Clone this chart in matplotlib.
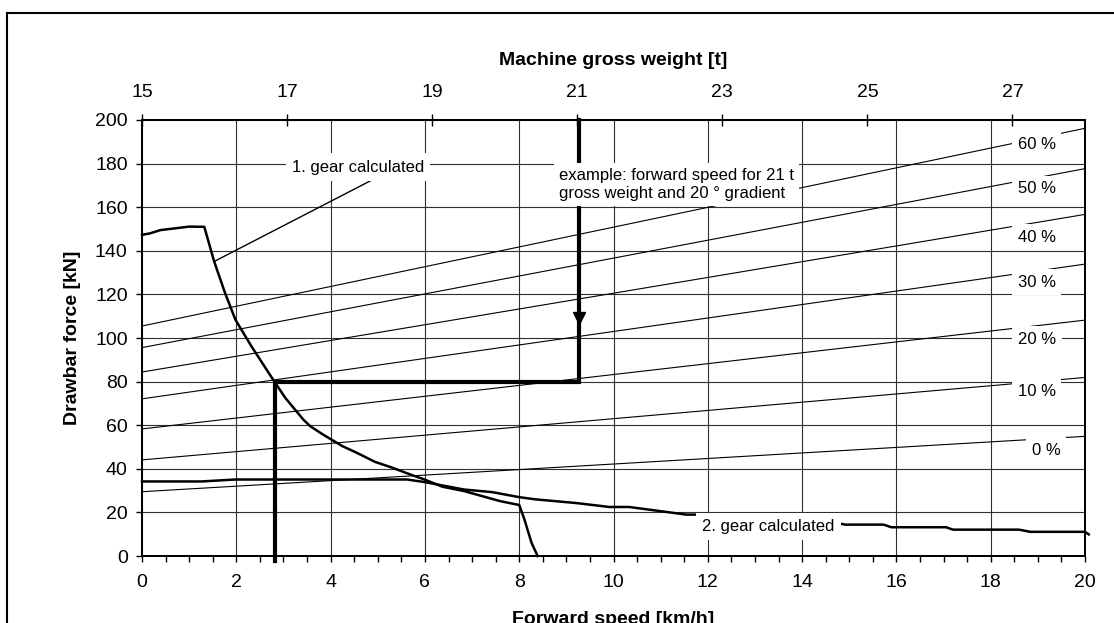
import numpy as np
import matplotlib
matplotlib.use("Agg")
import matplotlib.pyplot as plt
from matplotlib.lines import Line2D
from matplotlib.ticker import MultipleLocator

plt.rcParams['font.family'] = ['Liberation Sans', 'DejaVu Sans']
plt.rcParams['font.size'] = 12

# 1. gear, calculated drawbar force [kN] over forward speed [km/h]
gear1_speed = [0, 0.17, 0.39, 0.70, 1.0, 1.32, 1.53, 1.76, 1.98, 2.32, 2.78, 3.04, 3.42,
               3.57, 3.84, 4.25, 4.56, 4.94, 5.31, 5.69, 5.99, 6.37, 6.83, 7.21, 7.59,
               8.00, 8.11, 8.26, 8.39]
gear1_force = [147.3, 148.0, 149.5, 150.3, 151.1, 151.0, 135.1, 120.7, 108.4, 96.2, 80.9,
               72.5, 62.6, 59.5, 55.7, 50.4, 47.3, 43.2, 40.5, 37.4, 35.1, 31.8, 29.8,
               27.5, 25.2, 23.4, 16.8, 6.1, 0]

# 2. gear, calculated
gear2_speed = [0, 1.26, 1.98, 5.62, 6.0, 6.83, 7.43, 8.0, 8.34, 9.21, 9.91, 10.33, 10.92,
               11.54, 11.77, 14.80, 14.91, 15.73, 15.89, 17.05, 17.20, 18.60, 18.84,
               20.0, 20.08]
gear2_force = [34.2, 34.2, 35.1, 35.1, 33.9, 30.5, 29.3, 27.0, 26.0, 24.3, 22.5, 22.5, 20.8,
               19.0, 19.0, 14.9, 14.4, 14.4, 13.2, 13.2, 12.1, 12.1, 11.1, 11.1, 9.9]

# gradient lines: required force at 0 km/h (15 t) and 20 km/h (28 t)
grade_labels = ['0 %', '10 %', '20 %', '30 %', '40 %', '50 %', '60 %']
grade_force_start = [29.5, 44.1, 58.3, 72.1, 84.4, 95.6, 105.5]
grade_force_end = [54.9, 81.9, 108.2, 133.9, 156.7, 177.7, 196.2]
grade_label_x = [19.18, 18.98, 18.98, 18.98, 18.98, 18.98, 18.98]
grade_label_y = [48.6, 75.4, 99.4, 125.5, 146.2, 168.5, 188.6]

weight_ticks = [15, 17, 19, 21, 23, 25, 27]
speed_ticks = np.arange(0, 21, 2)
force_ticks = np.arange(0, 201, 20)

# example: 21 t and 20 % -> 80 kN -> about 2.8 km/h
example_speed = [9.27, 9.27, 2.82, 2.82]
example_force = [200, 80, 80, -2.5]

fig = plt.figure(figsize=(11.14, 6.23), dpi=100)
ax = fig.add_axes([0.1275, 0.1075, 0.8465, 0.6999])

ax.set_xlim(0, 20)
ax.set_ylim(0, 200)
ax.set_xticks(speed_ticks)
ax.xaxis.set_minor_locator(MultipleLocator(0.5))
ax.set_yticks(force_ticks)
ax.grid(True, which='major', color='#303030', lw=0.8)
ax.set_axisbelow(True)
ax.tick_params(axis='x', which='both', direction='out', length=4.3, width=1, pad=9,
               labelsize=14)
ax.tick_params(axis='y', direction='out', length=4.3, width=1, pad=6, labelsize=14)
for s in ax.spines.values():
    s.set_linewidth(1.4)

for f0, f1 in zip(grade_force_start, grade_force_end):
    ax.plot([0, 20], [f0, f1], color='black', lw=0.8, zorder=2)
for lx, ly, lab in zip(grade_label_x, grade_label_y, grade_labels):
    ax.text(lx, ly, lab, ha='center', va='center', zorder=6,
            bbox=dict(facecolor='white', edgecolor='none', pad=4))

ax.plot(gear1_speed, gear1_force, color='black', lw=1.8, zorder=3, clip_on=False)
ax.plot(gear2_speed, gear2_force, color='black', lw=1.8, zorder=3, clip_on=False)

ax.plot(example_speed, example_force, color='black', lw=3, zorder=4,
        clip_on=False, solid_joinstyle='miter')
ax.plot([9.27], [109], marker='v', color='black', markersize=9, zorder=4)

# labels
ax.plot([4.88, 1.53], [172.5, 135.1], color='black', lw=1, zorder=4)
ax.text(4.58, 178.3, '1. gear calculated', ha='center', va='center', zorder=6,
        bbox=dict(facecolor='white', edgecolor='none', pad=4.5))
ax.text(13.28, 13.6, '2. gear calculated', ha='center', va='center', zorder=6,
        bbox=dict(facecolor='white', edgecolor='none', pad=4.5))
ax.text(8.85, 170.4, 'example: forward speed for 21 t\ngross weight and 20 \u00b0 gradient',
        ha='left', va='center', linespacing=1.25, zorder=6,
        bbox=dict(facecolor='white', edgecolor='none', pad=3.5))

ax.set_ylabel('Drawbar force [kN]', fontweight='bold', fontsize=14, va='center')
ax.yaxis.set_label_coords(-0.0737, 0.5)
fig.text(0.5506, 1 - 611 / 623, 'Forward speed [km/h]', ha='center', va='top',
         fontweight='bold', fontsize=14)

# top axis: machine gross weight
ax2 = ax.twiny()
ax2.set_xlim(15, 28)
ax2.set_xticks(weight_ticks)
ax2.tick_params(axis='x', direction='inout', length=9, width=1, pad=9, labelsize=14)
for s in ax2.spines.values():
    s.set_linewidth(1.4)
ax2.set_xlabel('Machine gross weight [t]', fontweight='bold', fontsize=14, labelpad=14)

# outer frame (cut at right and bottom)
fig.add_artist(Line2D([6.7 / 1114, 6.7 / 1114], [0, 1 - 12.7 / 623], color='black', lw=1.5,
                      transform=fig.transFigure))
fig.add_artist(Line2D([6.7 / 1114, 1], [1 - 12.7 / 623, 1 - 12.7 / 623], color='black',
                      lw=1.5, transform=fig.transFigure))

fig.savefig('out.png', dpi=100)
